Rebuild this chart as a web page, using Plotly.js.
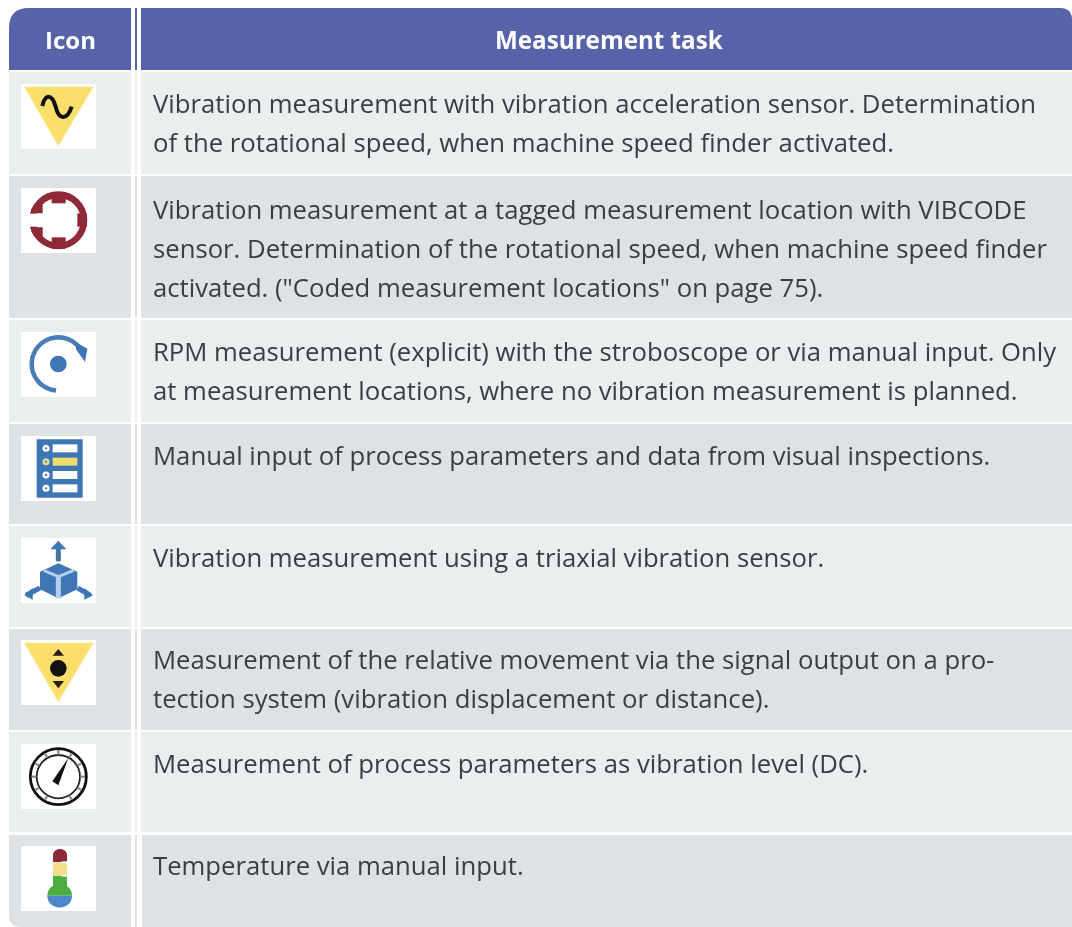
<!DOCTYPE html>
<html><head><meta charset="utf-8">
<script src="https://cdn.plot.ly/plotly-3.0.1.min.js"></script>
<style>html,body{margin:0;padding:0;background:#fff}#c{width:1072px;height:927px;filter:blur(0.4px)}</style>
</head><body><div id="c"></div>
<script>
const headerLabels = ["Icon", "Measurement task"];
const rowLines = [
 ["Vibration measurement with vibration acceleration sensor. Determination","of the rotational speed, when machine speed finder activated."],
 ["Vibration measurement at a tagged measurement location with VIBCODE","sensor. Determination of the rotational speed, when machine speed finder","activated. (\"Coded measurement locations\" on page 75)."],
 ["RPM measurement (explicit) with the stroboscope or via manual input. Only","at measurement locations, where no vibration measurement is planned."],
 ["Manual input of process parameters and data from visual inspections."],
 ["Vibration measurement using a triaxial vibration sensor."],
 ["Measurement of the relative movement via the signal output on a pro-","tection system (vibration displacement or distance)."],
 ["Measurement of process parameters as vibration level (DC)."],
 ["Temperature via manual input."]
];
const rowTops = [72,176,320,424,526,629,732,835];
const rowBottoms = [174,318,422,524,627,730,832,927];
const rowFills = ["#EBEEEF","#DFE2E5","#EBEEEF","#DFE2E5","#EBEEEF","#DFE2E5","#EBEEEF","#DFE2E5"];
const iconTops = [84,188,332,436,538,640,744,846];
const firstLineY = [103,209,351,455,557,659,763,865];
const lineStep = 39;
const HEAD="#5663A8", TXT="#3A3D41", YEL="#FBDF6C", BLU="#3F76B6", RED="#8E2A38";

const shapes=[];
function rect(x0,y0,x1,y1,fill){shapes.push({type:'rect',xref:'x',yref:'y',x0,y0,x1,y1,fillcolor:fill,line:{width:0},layer:'below'});}
function path(d,fill,lw,lc){shapes.push({type:'path',xref:'x',yref:'y',path:d,fillcolor:fill||'rgba(0,0,0,0)',line:{width:lw||0,color:lc||'rgba(0,0,0,0)'},layer:'below'});}
const L=9,C1=131,S1=135,S2=137,C2=141,R=1072;
path(`M${L} 70 L${L} 28 Q${L} 8 ${L+20} 8 L${C1} 8 L${C1} 70 Z`,HEAD);
rect(S1,8,S2,70,HEAD);
path(`M${C2} 8 L${R-12} 8 Q${R} 8 ${R} 20 L${R} 70 L${C2} 70 Z`,HEAD);
rowTops.forEach((t,i)=>{
  const b=rowBottoms[i],f=rowFills[i];
  if(i===7){path(`M${L} ${t} L${C1} ${t} L${C1} ${b} L${L+12} ${b} Q${L} ${b} ${L} ${b-12} Z`,f);rect(C2+1,t,R,b,f);}
  else{rect(L,t,C1,b,f);rect(C2,t,R,b,f);}
  rect(S1,t,S2,b,f);
});
function icon(i,draw){
  const ox=21,oy=iconTops[i];
  rect(ox,oy,ox+75,oy+65,'#FFFFFF');
  const X=u=>+(ox+u/3).toFixed(2),Y=v=>+(oy+v/3).toFixed(2);
  const P=(pts,close)=>pts.map((p,k)=>(k?'L':'M')+X(p[0])+' '+Y(p[1])).join(' ')+(close?' Z':'');
  const circ=(u,v,r,fill,lw,lc)=>shapes.push({type:'circle',xref:'x',yref:'y',x0:X(u-r),x1:X(u+r),y0:Y(v-r),y1:Y(v+r),fillcolor:fill||'rgba(0,0,0,0)',line:{width:lw||0,color:lc||'rgba(0,0,0,0)'},layer:'below'});
  const box=(a,b,c,d,fill)=>rect(X(a),Y(b),X(c),Y(d),fill);
  const arc=(u,v,r,a0,a1)=>{const pts=[];for(let k=0;k<=24;k++){const a=(a0+(a1-a0)*k/24)*Math.PI/180;pts.push([u+r*Math.cos(a),v+r*Math.sin(a)]);}return P(pts);};
  draw({X,Y,P,circ,box,arc});
}
const tri=g=>{path(g.P([[12,10],[215,10],[112,183]],true),YEL,2,'rgba(251,223,108,0.45)');};
icon(0,g=>{tri(g);
  path(`M${g.X(64)} ${g.Y(66)} C${g.X(72)} ${g.Y(30)} ${g.X(92)} ${g.Y(28)} ${g.X(104)} ${g.Y(68)} C${g.X(112)} ${g.Y(106)} ${g.X(138)} ${g.Y(112)} ${g.X(152)} ${g.Y(68)}`,null,4,'#111');
});
icon(1,g=>{
  g.circ(112,97,77,null,6.6,RED);
  g.box(92,12,134,46,RED);g.box(92,148,134,182,RED);g.box(169,76,197,116,RED);
  path(g.P([[28,76],[32,62],[42,46],[65,46],[65,76]],true),RED);
  path(g.P([[28,118],[32,132],[42,148],[65,148],[65,118]],true),RED);
  g.box(18,77,67,116,'#FFFFFF');
});
icon(2,g=>{
  path(g.arc(112,96,80,-28,-265),null,4.5,'#4A7DB5');
  path(g.P([[168,32],[199,50],[192,90],[165,52]],true),BLU);
  g.circ(112,96,25,BLU);
});
icon(3,g=>{
  g.box(47,10,185,185,BLU);
  [37,77,117,157].forEach((v,k)=>{
    g.box(95,v-12,169,v+12,k===1?'#F0DC6C':'#FFFFFF');
    g.circ(75,v,7,k===1?'#6C8A70':BLU,2.4,k===1?'#D8DCA0':'#FFFFFF');
  });
});
icon(4,g=>{
  path(g.P([[112,70],[112,18]]),null,5,'#46739F');
  path(g.P([[112,8],[136,34],[88,34]],true),BLU);
  path(g.P([[57,150],[15,172]]),null,5,BLU);
  path(g.P([[170,150],[208,172]]),null,5,BLU);
  path(g.P([[10,172],[35,150],[35,185]],true),BLU);
  path(g.P([[216,172],[190,150],[190,185]],true),BLU);
  path(g.P([[112,76],[169,101],[169,154],[112,181],[57,154],[57,101]],true),BLU);
  path(g.P([[68,97],[112,116],[158,97]]),null,3,'#B3CFF0');
  path(g.P([[112,116],[112,181]]),null,5,'#B3CFF0');
});
icon(5,g=>{tri(g);
  g.circ(112,85,25,'#111');
  path(g.P([[112,27],[95,47],[129,47]],true),'#2A1C10');
  path(g.P([[95,123],[129,123],[112,145]],true),'#2A1C10');
});
icon(6,g=>{
  g.circ(112,98,84,null,2.8,'#111');
  g.circ(112,98,65,null,1.8,'#222');
  [-90,-60,-30,0,30,60,120,150,180,210,240].forEach(a=>{
    const r=a*Math.PI/180,c=Math.cos(r),s=Math.sin(r);
    path(g.P([[112+66*c,98+66*s],[112+80*c,98+80*s]]),null,2.2,'#8A8A8A');
  });
  path(g.P([[94,112],[142,42],[112,124]],true),'#111');
});
icon(7,g=>{
  path(`M${g.X(96)} ${g.Y(48)} L${g.X(96)} ${g.Y(28)} C${g.X(96)} ${g.Y(3)} ${g.X(138)} ${g.Y(3)} ${g.X(138)} ${g.Y(28)} L${g.X(138)} ${g.Y(48)} Z`,RED);
  g.box(96,49,138,90,'#F5DE8A');
  g.box(96,90,138,125,'#4BAE3F');
  g.box(122,46,138,52,'#FFFFFF');g.box(122,86,138,92,'#FFFFFF');
  path(`M${g.X(79)} ${g.Y(149)} C${g.X(79)} ${g.Y(102)} ${g.X(153)} ${g.Y(102)} ${g.X(153)} ${g.Y(149)} Z`,'#4BAE3F');
  path(`M${g.X(79)} ${g.Y(149)} C${g.X(79)} ${g.Y(196)} ${g.X(153)} ${g.Y(196)} ${g.X(153)} ${g.Y(149)} Z`,'#4E86CC');
});
const FS=25.7, F='"Open Sans", sans-serif';
const annotations=[
 {x:70,y:39,text:'<b>'+headerLabels[0]+'</b>',font:{size:24,color:'#fff',family:F}},
 {x:609,y:39,text:'<b>'+headerLabels[1]+'</b>',font:{size:24.2,color:'#fff',family:F}}
].map(a=>Object.assign(a,{xref:'x',yref:'y',showarrow:false,xanchor:'center',yanchor:'middle'}));
rowLines.forEach((ls,i)=>ls.forEach((s,k)=>annotations.push({xref:'x',yref:'y',x:153,y:firstLineY[i]+k*lineStep,text:s,showarrow:false,xanchor:'left',yanchor:'middle',xshift:-2,font:{size:FS,color:TXT,family:F}})));
const ax={visible:false,fixedrange:true};
Plotly.newPlot('c',[{x:[0],y:[0],mode:'markers',marker:{opacity:0},hoverinfo:'skip',showlegend:false}],{
  width:1072,height:927,margin:{l:0,r:0,t:0,b:0},paper_bgcolor:'#fff',plot_bgcolor:'#fff',showlegend:false,
  xaxis:Object.assign({range:[0,1072]},ax),yaxis:Object.assign({range:[927,0]},ax),shapes,annotations
},{displayModeBar:false,staticPlot:true});
</script></body></html>
